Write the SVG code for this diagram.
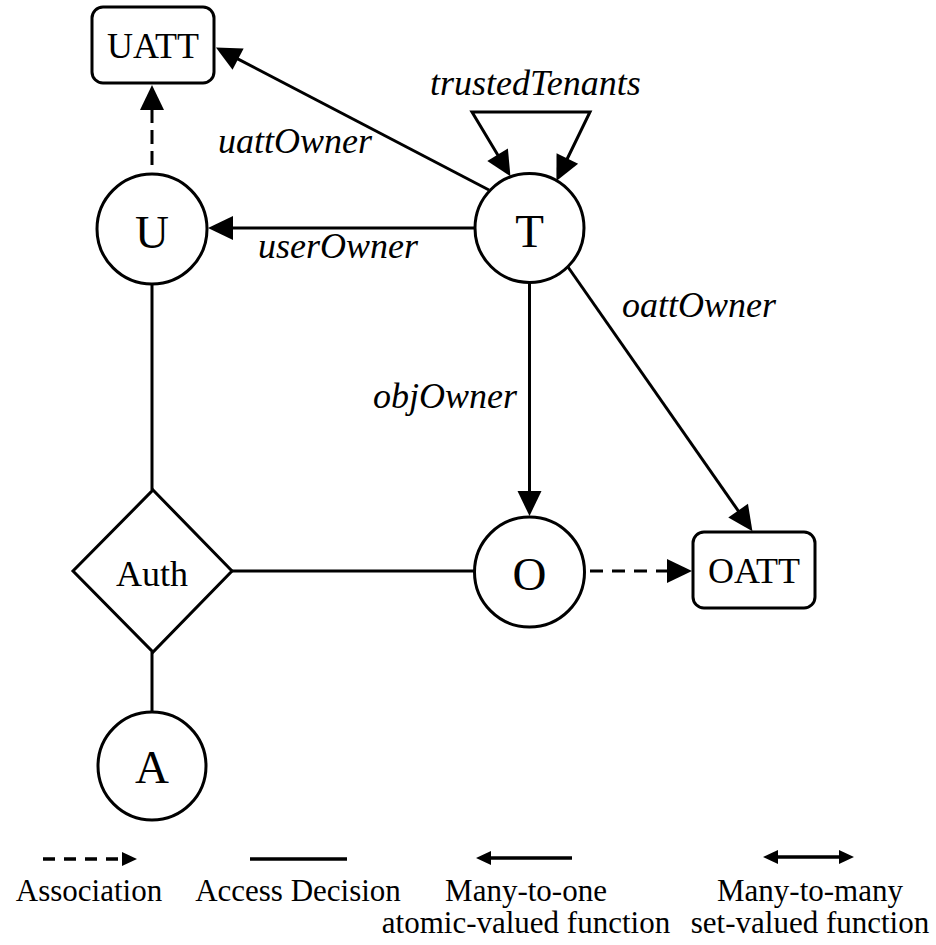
<svg xmlns="http://www.w3.org/2000/svg" width="936" height="945" viewBox="0 0 936 945">
  <style>
    .shape { fill: #fff; stroke: #000; stroke-width: 3; }
    .edge { fill: none; stroke: #000; stroke-width: 3; }
    .dash { stroke-dasharray: 14 7; }
    .big { font-family: "Liberation Serif", "Times New Roman", serif; font-size: 47px; text-anchor: middle; fill: #000; }
    .box { font-family: "Liberation Serif", "Times New Roman", serif; font-size: 36px; text-anchor: middle; fill: #000; }
    .lbl { font-family: "Liberation Serif", "Times New Roman", serif; font-size: 36px; font-style: italic; fill: #000; }
    .key { font-family: "Liberation Serif", "Times New Roman", serif; font-size: 31px; text-anchor: middle; fill: #000; }
    .keyline { fill: none; stroke: #000; stroke-width: 3.5; }
  </style>
  <defs>
    <marker id="arr" markerUnits="userSpaceOnUse" markerWidth="26" markerHeight="26" refX="1" refY="12" orient="auto-start-reverse" viewBox="0 0 26 24" overflow="visible">
      <path d="M0,0 L25,12 L0,24 z" fill="#000"/>
    </marker>
    <marker id="arrS" markerUnits="userSpaceOnUse" markerWidth="16" markerHeight="16" refX="1" refY="7" orient="auto-start-reverse" viewBox="0 0 16 14" overflow="visible">
      <path d="M0,0 L15,7 L0,14 z" fill="#000"/>
    </marker>
  </defs>

  <rect width="936" height="945" fill="#fff"/>

  <!-- connectors -->
  <g id="connectors">
    <!-- uattOwner: T -> UATT -->
    <line class="edge" x1="489" y1="190" x2="237.2" y2="58.6" marker-end="url(#arr)"/>
    <!-- U associated with UATT -->
    <line class="edge dash" x1="152" y1="165" x2="152" y2="109" marker-end="url(#arr)"/>
    <!-- userOwner: T -> U -->
    <line class="edge" x1="475" y1="228" x2="232" y2="228" marker-end="url(#arr)"/>
    <!-- objOwner: T -> O -->
    <line class="edge" x1="529.5" y1="283" x2="529.5" y2="492" marker-end="url(#arr)"/>
    <!-- oattOwner: T -> OATT -->
    <line class="edge" x1="568" y1="267" x2="738.7" y2="511.5" marker-end="url(#arr)"/>
    <!-- O associated with OATT -->
    <line class="edge" style="stroke-dasharray:13 9" x1="590" y1="571" x2="668" y2="571" marker-end="url(#arr)"/>
    <!-- trustedTenants self loop on T -->
    <path class="edge" d="M498.1,155.6 L472,112 L590,112 L566.9,159.5" marker-start="url(#arr)" marker-end="url(#arr)"/>
    <!-- access decision links -->
    <line class="edge" x1="152" y1="284" x2="152" y2="490"/>
    <line class="edge" x1="232" y1="571" x2="475" y2="571"/>
    <line class="edge" x1="152" y1="652" x2="152" y2="712"/>

    <text class="lbl" x="430" y="95">trustedTenants</text>
    <text class="lbl" x="218" y="153">uattOwner</text>
    <text class="lbl" x="258" y="258">userOwner</text>
    <text class="lbl" x="622" y="317">oattOwner</text>
    <text class="lbl" x="373" y="408">objOwner</text>
  </g>

  <!-- nodes -->
  <g id="node-UATT">
    <rect class="shape" x="92" y="7" width="122" height="76" rx="11"/>
    <text class="box" x="153" y="58">UATT</text>
  </g>
  <g id="node-U">
    <circle class="shape" cx="152" cy="229" r="55"/>
    <text class="big" x="152" y="248">U</text>
  </g>
  <g id="node-T">
    <circle class="shape" cx="529.5" cy="228" r="54.5"/>
    <text class="big" x="529.5" y="247">T</text>
  </g>
  <g id="node-Auth">
    <polygon class="shape" points="153,490 232,571 153,652 73,571"/>
    <text class="box" x="152" y="586">Auth</text>
  </g>
  <g id="node-O">
    <circle class="shape" cx="529.5" cy="572" r="55"/>
    <text class="big" x="529.5" y="590">O</text>
  </g>
  <g id="node-OATT">
    <rect class="shape" x="693" y="532" width="122" height="76" rx="11"/>
    <text class="box" x="754" y="583">OATT</text>
  </g>
  <g id="node-A">
    <circle class="shape" cx="152" cy="766" r="54"/>
    <text class="big" x="152" y="783">A</text>
  </g>

  <!-- legend -->
  <g id="legend">
    <line class="keyline" style="stroke-dasharray:12 9" x1="43" y1="859" x2="123" y2="859" marker-end="url(#arrS)"/>
    <line class="keyline" x1="250" y1="859" x2="347" y2="859"/>
    <line class="keyline" x1="572" y1="858" x2="490" y2="858" marker-end="url(#arrS)"/>
    <line class="keyline" x1="777" y1="857" x2="840" y2="857" marker-start="url(#arrS)" marker-end="url(#arrS)"/>
    <text class="key" x="89" y="901">Association</text>
    <text class="key" x="298" y="901">Access Decision</text>
    <text class="key" x="526" y="901">Many-to-one</text>
    <text class="key" x="526" y="933">atomic-valued function</text>
    <text class="key" x="810" y="901">Many-to-many</text>
    <text class="key" x="810" y="933">set-valued function</text>
  </g>
</svg>
